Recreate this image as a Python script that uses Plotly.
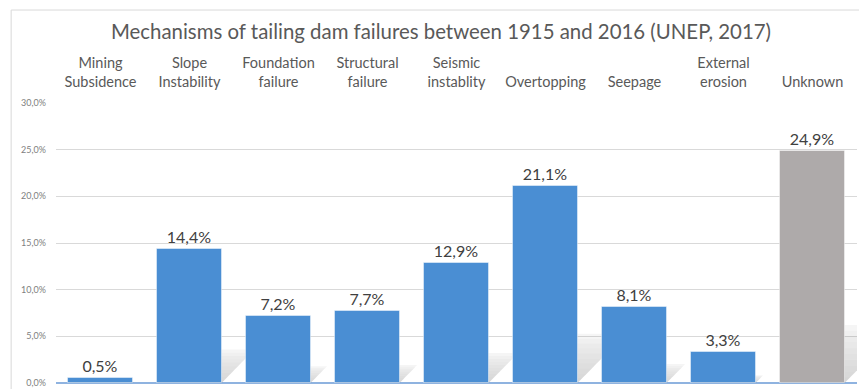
import plotly.graph_objects as go

# Failure mechanisms and their share of recorded tailing dam failures (%)
categories = [
    "Mining<br>Subsidence",
    "Slope<br>Instability",
    "Foundation<br>failure",
    "Structural<br>failure",
    "Seismic<br>instablity",
    "Overtopping",
    "Seepage",
    "External<br>erosion",
    "Unknown",
]
shares = [0.5, 14.4, 7.2, 7.7, 12.9, 21.1, 8.1, 3.3, 24.9]
y_ticks = [0, 5, 10, 15, 20, 25, 30]
y_tick_labels = [f"{v:.1f}%".replace(".", ",") for v in y_ticks]

BLUE = "#4a8ed3"
GREY = "#aeaaaa"
FONT = "Lato"

positions = list(range(len(categories)))
bar_width = 0.72
colors = [GREY if c == "Unknown" else BLUE for c in categories]

fig = go.Figure()
fig.add_trace(
    go.Bar(
        x=positions,
        y=shares,
        width=bar_width,
        marker=dict(color=colors, line=dict(color="rgba(255,255,255,0.45)", width=1)),
        texttemplate="%{y:.1f}%",
        textposition="outside",
        textfont=dict(family=FONT, size=16, color="#404040"),
        cliponaxis=False,
        hoverinfo="skip",
    )
)

# Soft drop shadow cast behind each bar, fading towards the top
shadow_ratio = 0.25       # shadow height as a share of the bar height
skew = 0.0257             # horizontal shift (category units) per percent of height
bands = 10
shapes = []
for pos, val in zip(positions, shares):
    h = shadow_ratio * val
    dx = skew * val
    x0, x1 = pos - bar_width / 2, pos + bar_width / 2
    for b in range(bands):
        f0, f1 = b / bands, (b + 1) / bands
        alpha = 0.22 * (1 - f0) ** 0.6
        path = (
            f"M {x0 + dx * f0} {h * f0} L {x1 + dx * f0} {h * f0} "
            f"L {x1 + dx * f1} {h * f1} L {x0 + dx * f1} {h * f1} Z"
        )
        shapes.append(
            dict(
                type="path", path=path, xref="x", yref="y", layer="between",
                fillcolor=f"rgba(70,70,70,{alpha:.3f})", line=dict(width=0),
            )
        )

# Chart frame (top and left edges)
frame = dict(color="#d9d9d9", width=1)
shapes.append(dict(type="line", xref="paper", yref="paper", x0=-0.056, x1=-0.056,
                   y0=1.332, y1=-0.05, line=frame))
shapes.append(dict(type="line", xref="paper", yref="paper", x0=-0.056, x1=1.01,
                   y0=1.332, y1=1.332, line=frame))

fig.update_layout(
    width=859,
    height=389,
    margin=dict(l=56, r=2, t=103, b=6),
    paper_bgcolor="white",
    plot_bgcolor="white",
    separators=",.",
    showlegend=False,
    bargap=0,
    font=dict(family=FONT, color="#595959"),
    title=dict(
        text="Mechanisms of tailing dam failures between 1915 and 2016 (UNEP, 2017)",
        font=dict(family=FONT, size=20.4, color="#595959"),
        x=441 / 859, xanchor="center", xref="container",
        y=1 - 32 / 389, yanchor="middle", yref="container",
    ),
    xaxis=dict(
        range=[-0.5, len(categories) - 0.5],
        tickvals=positions,
        ticktext=categories,
        side="top",
        showgrid=False,
        showline=False,
        zeroline=False,
        ticks="",
        ticklabelstandoff=12,
        tickfont=dict(family=FONT, size=14.5, color="#595959"),
        fixedrange=True,
    ),
    yaxis=dict(
        range=[0, 30],
        tickvals=y_ticks,
        ticktext=y_tick_labels,
        showgrid=True,
        gridcolor="#d9d9d9",
        gridwidth=1,
        zeroline=True,
        zerolinecolor="#8fb3e0",
        zerolinewidth=1.5,
        showline=False,
        ticks="",
        ticklabelstandoff=9,
        tickfont=dict(family=FONT, size=9, color="#808080"),
        fixedrange=True,
    ),
    shapes=shapes,
)

fig.write_html("out.html")
